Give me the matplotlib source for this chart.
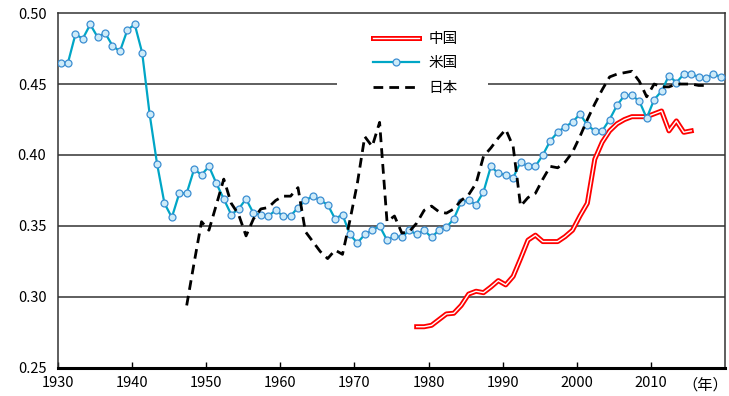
import matplotlib
matplotlib.use('Agg')
import matplotlib.pyplot as plt
import matplotlib.patheffects as pe
from matplotlib.patches import Rectangle
import numpy as np

plt.rcParams['font.family'] = ['Noto Sans CJK JP', 'DejaVu Sans']

# US (米国) 1930-2019
us_years = list(range(1930, 2020))
us_vals = [0.465, 0.465, 0.485, 0.482, 0.492, 0.483, 0.486, 0.477, 0.473, 0.488,
           0.492, 0.472, 0.429, 0.394, 0.366, 0.356, 0.373, 0.373, 0.390, 0.386,
           0.392, 0.380, 0.369, 0.358, 0.362, 0.369, 0.359, 0.358, 0.357, 0.361,
           0.357, 0.357, 0.363, 0.368, 0.371, 0.368, 0.365, 0.355, 0.358, 0.344,
           0.338, 0.344, 0.347, 0.350, 0.340, 0.343, 0.342, 0.347, 0.344, 0.347,
           0.342, 0.347, 0.349, 0.355, 0.367, 0.368, 0.365, 0.374, 0.392, 0.387,
           0.386, 0.384, 0.395, 0.392, 0.392, 0.400, 0.410, 0.416, 0.420, 0.423,
           0.429, 0.421, 0.417, 0.417, 0.425, 0.435, 0.442, 0.442, 0.438, 0.426,
           0.439, 0.445, 0.456, 0.451, 0.457, 0.457, 0.455, 0.454, 0.457, 0.455]

# Japan (日本) 1947-2017
jp_years = list(range(1947, 2018))
jp_vals = [0.294, 0.324, 0.353, 0.347, 0.365, 0.383, 0.366, 0.358, 0.343, 0.355,
           0.362, 0.363, 0.368, 0.371, 0.371, 0.377, 0.346, 0.339, 0.332, 0.327,
           0.333, 0.330, 0.354, 0.380, 0.413, 0.406, 0.423, 0.353, 0.357, 0.345,
           0.346, 0.352, 0.361, 0.364, 0.360, 0.359, 0.362, 0.368, 0.372, 0.380,
           0.399, 0.405, 0.412, 0.418, 0.406, 0.364, 0.370, 0.373, 0.383, 0.392,
           0.391, 0.395, 0.402, 0.413, 0.425, 0.436, 0.446, 0.455, 0.457, 0.458,
           0.459, 0.452, 0.441, 0.450, 0.448, 0.448, 0.450, 0.450, 0.450, 0.449,
           0.449]

# China (中国) 1978-2015
cn_years = list(range(1978, 2016))
cn_vals = [0.279, 0.279, 0.280, 0.284, 0.288, 0.2885, 0.294, 0.302, 0.304, 0.303,
           0.307, 0.3115, 0.3085, 0.3145, 0.327, 0.340, 0.3435, 0.339, 0.339, 0.339,
           0.3425, 0.347, 0.357, 0.366, 0.397, 0.409, 0.417, 0.422, 0.425, 0.427,
           0.427, 0.427, 0.429, 0.431, 0.417, 0.424, 0.416, 0.417]

off = 0.4  # points sit mid-year between the ticks

fig = plt.figure(figsize=(7.29, 3.96), dpi=100)
ax = fig.add_axes([0.079, 0.071, 0.916, 0.896])

for y in [0.30, 0.35, 0.40, 0.45]:
    ax.axhline(y, color='#333333', lw=1.1, zorder=1)

# white box behind the legend (cuts the 0.45 gridline like the original)
ax.add_patch(Rectangle((0.419, 0.74), 0.226, 0.22, transform=ax.transAxes,
                       facecolor='white', edgecolor='none', zorder=2))

ax.plot(np.array(cn_years) + off, cn_vals, color='white', lw=1.0, label='中国', zorder=3,
        path_effects=[pe.Stroke(linewidth=3.6, foreground='#FF0000'), pe.Normal()])
ax.plot(np.array(us_years) + off, us_vals, color='#00A6C6', lw=1.6, marker='o', ms=5,
        mfc='#CDEBF8', mec='#3C8ED2', mew=0.9, label='米国', zorder=4)
ax.plot(np.array(jp_years) + off, jp_vals, color='black', lw=2.0, ls=(0, (3.5, 2.2)),
        label='日本', zorder=5)

ax.set_xlim(1930, 2020)
ax.set_ylim(0.25, 0.50)
ax.set_xticks(range(1930, 2020, 10))
ax.set_yticks([0.25, 0.30, 0.35, 0.40, 0.45, 0.50])
ax.set_yticklabels(['%.2f' % v for v in [0.25, 0.30, 0.35, 0.40, 0.45, 0.50]])
ax.tick_params(axis='x', direction='in', length=4, width=1, labelsize=10.5, pad=6)
ax.tick_params(axis='y', length=0, labelsize=10.5, pad=8)

for s in ['left', 'right', 'top']:
    ax.spines[s].set_color('#333333')
    ax.spines[s].set_linewidth(1.1)
ax.spines['bottom'].set_linewidth(2.2)
ax.spines['bottom'].set_color('black')

ax.annotate('（年）', xy=(2017.3, 0), xycoords=('data', 'axes fraction'),
            xytext=(0, -6), textcoords='offset points', ha='center', va='top', fontsize=11)

leg = ax.legend(loc='upper left', bbox_to_anchor=(0.473, 0.946), frameon=False,
                fontsize=10.5, handlelength=3.1, handletextpad=0.7,
                labelspacing=0.7, borderpad=0, borderaxespad=0)
leg.set_zorder(6)

fig.savefig('out.png', dpi=100)
